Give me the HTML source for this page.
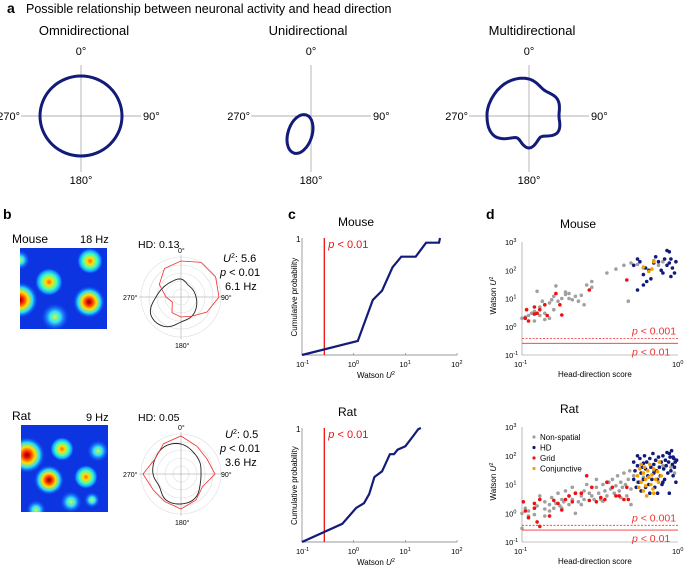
<!DOCTYPE html>
<html><head><meta charset="utf-8"><style>
body{margin:0;background:#fff}
svg{display:block;font-family:"Liberation Sans",Arial,sans-serif}
</style></head><body>
<svg id="fig" width="685" height="569" viewBox="0 0 685 569" xmlns="http://www.w3.org/2000/svg">
<defs>
<radialGradient id="hr" cx="50%" cy="50%" r="50%"><stop offset="0" stop-color="#800000"/><stop offset="0.2" stop-color="#ff2000"/><stop offset="0.45" stop-color="#ffe000"/><stop offset="0.7" stop-color="#20e0ff"/><stop offset="1" stop-color="#1040ff" stop-opacity="0"/></radialGradient>
<radialGradient id="hy" cx="50%" cy="50%" r="50%"><stop offset="0" stop-color="#ff6000"/><stop offset="0.25" stop-color="#ffe000"/><stop offset="0.55" stop-color="#40ffc0"/><stop offset="0.8" stop-color="#10a0ff"/><stop offset="1" stop-color="#1040ff" stop-opacity="0"/></radialGradient>
<radialGradient id="hc" cx="50%" cy="50%" r="50%"><stop offset="0" stop-color="#c0ff40"/><stop offset="0.4" stop-color="#30e0ff"/><stop offset="1" stop-color="#1040ff" stop-opacity="0"/></radialGradient>
<clipPath id="cm"><rect x="20" y="248" width="87" height="81"/></clipPath>
<clipPath id="cr"><rect x="21" y="425" width="87" height="87"/></clipPath>
</defs>
<g id="root"></g>
</svg>
<script>
// ---------- data ----------
const cdfMouseX=[-1,0.08,0.37,0.55,0.75,0.92,1.2,1.25,1.4,1.65,1.67];
const cdfMouseY=[0,0.12,0.47,0.55,0.75,0.84,0.84,0.87,0.96,0.96,1.0];
const cdfRatX=[-1,-0.22,0.05,0.2,0.3,0.4,0.55,0.7,0.78,0.85,1.0,1.15,1.25,1.3];
const cdfRatY=[0,0.16,0.3,0.34,0.42,0.57,0.62,0.77,0.77,0.81,0.84,0.93,0.99,1.0];
const mGray=[[0.1,2],[0.105,2.2],[0.11,2.5],[0.115,3],[0.12,3.5],[0.125,18],[0.13,5],[0.13,2.5],[0.135,8],[0.14,3],[0.14,6],[0.15,7],[0.15,2],[0.155,9],[0.16,12],[0.165,28],[0.17,8],[0.18,10],[0.19,14],[0.2,15],[0.21,9],[0.22,12],[0.23,8],[0.24,13],[0.25,6],[0.26,30],[0.28,25],[0.28,40],[0.35,80],[0.4,110],[0.45,150],[0.48,8],[0.5,180],[0.55,160],[0.6,120],[0.7,220],[0.75,150],[0.8,200],[0.12,1.6],[0.14,1.8],[0.16,4],[0.19,17],[0.2,10]];
const mRed=[[0.105,2],[0.107,4],[0.11,1.6],[0.12,5],[0.125,3],[0.13,4],[0.14,6],[0.145,2.5],[0.165,15],[0.175,6],[0.18,2.6],[0.27,20],[0.47,45],[0.12,2.8]];
const mBlue=[[0.52,150],[0.55,250],[0.57,200],[0.6,70],[0.62,120],[0.55,20],[0.63,40],[0.65,100],[0.7,180],[0.72,300],[0.75,200],[0.78,100],[0.8,80],[0.85,150],[0.85,500],[0.88,450],[0.9,250],[0.9,60],[0.92,120],[0.95,80],[0.88,180],[0.67,50],[0.6,30],[0.82,250],[0.97,200]];
const mOrange=[[0.6,130],[0.65,90],[0.68,110],[0.7,200]];
const rGray=[[0.1,0.3],[0.1,1],[0.105,1.5],[0.11,0.8],[0.11,1.2],[0.12,0.9],[0.125,1.8],[0.13,3],[0.13,4],[0.14,1.4],[0.14,2.5],[0.15,1.2],[0.15,2],[0.155,3.5],[0.16,1.5],[0.165,2.2],[0.17,5],[0.175,1.8],[0.18,3],[0.185,2.5],[0.19,6],[0.2,2],[0.2,4],[0.21,3],[0.21,8],[0.22,1],[0.22,5],[0.23,2.5],[0.24,4],[0.25,6],[0.25,3],[0.26,10],[0.27,5],[0.28,4],[0.29,3],[0.3,8],[0.3,15],[0.31,5],[0.32,3],[0.33,10],[0.34,6],[0.35,4],[0.36,12],[0.37,7],[0.38,15],[0.39,5],[0.4,9],[0.41,20],[0.42,6],[0.43,12],[0.44,8],[0.45,25],[0.46,10],[0.47,4],[0.48,15],[0.49,30],[0.5,7],[0.5,2],[0.52,20],[0.55,12],[0.6,18],[0.7,30],[0.8,45],[0.9,40],[0.95,25],[0.14,0.8],[0.18,1.5],[0.24,2],[0.33,2.6],[0.43,3.5]];
const rRed=[[0.102,2.5],[0.105,1.2],[0.11,0.7],[0.12,2.2],[0.12,1.5],[0.125,0.5],[0.13,0.35],[0.13,3],[0.15,0.8],[0.16,2.8],[0.17,2.2],[0.19,3],[0.2,4],[0.21,2.5],[0.22,5],[0.24,5],[0.26,20],[0.28,8],[0.3,2.5],[0.32,3.5],[0.34,3],[0.35,12],[0.38,8],[0.4,4],[0.42,4],[0.45,3],[0.47,8],[0.48,3],[0.18,1.3],[0.27,2.8]];
const rBlue=[[0.52,60],[0.52,15],[0.53,30],[0.54,8],[0.55,45],[0.56,12],[0.57,80],[0.58,25],[0.58,6],[0.59,40],[0.6,15],[0.61,100],[0.62,35],[0.62,8],[0.63,60],[0.64,20],[0.65,10],[0.66,80],[0.67,40],[0.68,15],[0.69,120],[0.7,50],[0.7,25],[0.71,8],[0.72,70],[0.73,30],[0.74,15],[0.75,90],[0.76,40],[0.77,20],[0.78,60],[0.79,10],[0.8,100],[0.81,35],[0.82,15],[0.83,70],[0.84,45],[0.85,130],[0.86,25],[0.87,60],[0.88,5],[0.89,90],[0.9,30],[0.91,150],[0.92,50],[0.93,20],[0.94,80],[0.95,40],[0.96,60],[0.97,12],[0.98,70],[0.55,100],[0.6,55],[0.66,5],[0.74,5],[0.8,12],[0.88,120],[0.93,90]];
const rOrange=[[0.55,20],[0.56,8],[0.57,35],[0.58,12],[0.6,25],[0.6,6],[0.61,40],[0.62,15],[0.63,4],[0.64,30],[0.65,18],[0.66,50],[0.67,10],[0.68,22],[0.69,7],[0.7,35],[0.72,15],[0.74,28],[0.75,12],[0.76,60],[0.58,50],[0.62,9],[0.7,5],[0.78,20]];
const angs=[0,30,60,90,120,150,180,210,240,270,300,330];
const multiR=[37,30,33,30,33,24,32,25,40,42,41,40];
const mRedR=[36,40,40,38,30,22,20,18,10,15,25,33];
const mBlackR=[18,14,14,15,18,22,25,34,35,25,20,18];
const rRedR=[38,32,30,34,25,30,35,32,32,38,30,35];
const rBlackR=[30,25,22,20,22,28,30,30,25,28,30,32];
// ---------- helpers ----------
const NS="http://www.w3.org/2000/svg";const root=document.getElementById('root');
function mk(tag,attrs,name,parent){const e=document.createElementNS(NS,tag);for(const k in attrs)e.setAttribute(k,attrs[k]);


(parent||root).appendChild(e);return e;}
function txt(x,y,s,size,name,opt){const o=Object.assign({x:x,y:y,'font-size':size,fill:'#000'},opt||{});const e=mk('text',o,name);e.innerHTML=s;return e;}
function smoothPolar(cx,cy,arr,n){let pts=[];const N=arr.length;for(let i=0;i<n;i++){const t=i/n*N;const k=Math.floor(t),f=t-k;
const p0=arr[(k-1+N)%N],p1=arr[k%N],p2=arr[(k+1)%N],p3=arr[(k+2)%N];
const r=0.5*((2*p1)+(-p0+p2)*f+(2*p0-5*p1+4*p2-p3)*f*f+(-p0+3*p1-3*p2+p3)*f*f*f);
const a=t/N*2*Math.PI;pts.push((cx+r*Math.sin(a)).toFixed(1)+','+(cy-r*Math.cos(a)).toFixed(1));}return 'M'+pts.join('L')+'Z';}
function polar(cx,cy,arr){return 'M'+arr.map((r,i)=>{const a=angs[i]*Math.PI/180;return (cx+r*Math.sin(a)).toFixed(1)+','+(cy-r*Math.cos(a)).toFixed(1);}).join('L')+'Z';}
// ---------- panel a ----------
txt(7,13,'a',14,'panel-a-label',{'font-weight':'bold'});
txt(26,13,'Possible relationship between neuronal activity and head direction',12.5,'panel-a-title');
function axesA(cx,cy,name){mk('line',{x1:cx-60,y1:cy,x2:cx+60,y2:cy,stroke:'#999','stroke-width':0.7},name+'-h-axis');
mk('line',{x1:cx,y1:cy-51,x2:cx,y2:cy+56,stroke:'#999','stroke-width':0.7},name+'-v-axis');
txt(cx,cy-61,'0°',11,name+'-label-0',{'text-anchor':'middle'});txt(cx,cy+68,'180°',11,name+'-label-180',{'text-anchor':'middle'});
txt(cx-61,cy+4,'270°',11,name+'-label-270',{'text-anchor':'end'});txt(cx+62,cy+4,'90°',11,name+'-label-90');}
txt(84,35,'Omnidirectional',13,'omni-title',{'text-anchor':'middle'});axesA(81,116,'omni');
mk('ellipse',{cx:81,cy:116,rx:41,ry:40,fill:'none',stroke:'#121b7a','stroke-width':3},'omni-curve');
txt(308,35,'Unidirectional',13,'uni-title',{'text-anchor':'middle'});axesA(311,116,'uni');
mk('ellipse',{cx:300,cy:134,rx:12,ry:20,transform:'rotate(18 300 134)',fill:'none',stroke:'#121b7a','stroke-width':3},'uni-curve');
txt(532,35,'Multidirectional',13,'multi-title',{'text-anchor':'middle'});axesA(529,116,'multi');
mk('path',{d:smoothPolar(529,116,multiR,120),fill:'none',stroke:'#121b7a','stroke-width':3},'multi-curve');
// ---------- panel b ----------
txt(3,219,'b',14,'panel-b-label',{'font-weight':'bold'});
function heat(x,y,w,h,clip,blobs,name){const g=mk('g',{'clip-path':'url(#'+clip+')'},name);
mk('rect',{x:x,y:y,width:w,height:h,fill:'#0c34e0'},name+'-bg',g);
blobs.forEach((b,i)=>mk('circle',{cx:b[0],cy:b[1],r:b[2],fill:'url(#'+b[3]+')'},name+'-field',g));}
txt(12,243,'Mouse',12,'mouse-label');txt(80,243,'18 Hz',11,'mouse-rate');
heat(20,248,87,81,'cm',[[90,261,13,'hy'],[49,282,14,'hy'],[20,300,18,'hr'],[89,302,16,'hr'],[55,317,14,'hc'],[20,260,10,'hc']],'mouse-ratemap');
txt(12,420,'Rat',12,'rat-label');txt(86,421,'9 Hz',11,'rat-rate');
heat(21,425,87,87,'cr',[[27,455,18,'hr'],[62,449,12,'hy'],[98,451,11,'hc'],[49,480,15,'hr'],[86,477,12,'hy'],[71,502,11,'hc'],[36,510,10,'hc'],[92,500,8,'hc']],'rat-ratemap');
function polarB(cx,cy,red,blk,name){for(let r=8;r<=40;r+=8)mk('circle',{cx:cx,cy:cy,r:r,fill:'none',stroke:'#ddd','stroke-width':0.6},name+'-ring');
mk('line',{x1:cx-42,y1:cy,x2:cx+42,y2:cy,stroke:'#999','stroke-width':0.5},name+'-haxis');
mk('line',{x1:cx,y1:cy-42,x2:cx,y2:cy+42,stroke:'#999','stroke-width':0.5},name+'-vaxis');
txt(cx-3,cy-44,'0°',7,name+'-0');txt(cx-6,cy+51,'180°',7,name+'-180');txt(cx-58,cy+3,'270°',7,name+'-270');txt(cx+40,cy+3,'90°',7,name+'-90');
mk('path',{d:smoothPolar(cx,cy,blk,60),fill:'none',stroke:'#222','stroke-width':0.9},name+'-black-curve');
mk('path',{d:polar(cx,cy,red),fill:'none',stroke:'#f03030','stroke-width':0.8},name+'-red-curve');}
txt(138,248,'HD: 0.13',10.5,'mouse-hd');polarB(181,297,mRedR,mBlackR,'mouse-polar');
txt(223,262,'<tspan font-style="italic">U</tspan><tspan dy="-4" font-size="7">2</tspan><tspan dy="4">: 5.6</tspan>',11,'mouse-u2');
txt(220,276,'<tspan font-style="italic">p</tspan> &lt; 0.01',11,'mouse-p');txt(225,290,'6.1 Hz',11,'mouse-hz');
txt(138,421,'HD: 0.05',10.5,'rat-hd');polarB(181,474,rRedR,rBlackR,'rat-polar');
txt(225,438,'<tspan font-style="italic">U</tspan><tspan dy="-4" font-size="7">2</tspan><tspan dy="4">: 0.5</tspan>',11,'rat-u2');
txt(220,452,'<tspan font-style="italic">p</tspan> &lt; 0.01',11,'rat-p');txt(225,466,'3.6 Hz',11,'rat-hz');
// ---------- panel c ----------
txt(288,219,'c',14,'panel-c-label',{'font-weight':'bold'});
function cdf(top,bot,xs,ys,title,name){const x0=302,dec=51.7;const X=v=>x0+(v+1)*dec;const Y=p=>bot-p*(bot-top);
txt(338,top-12,title,12,name+'-title');
mk('line',{x1:x0,y1:top,x2:x0,y2:bot,stroke:'#777','stroke-width':0.7},name+'-y-axis');
mk('line',{x1:x0,y1:bot,x2:X(2),y2:bot,stroke:'#777','stroke-width':0.7},name+'-x-axis');
txt(x0-6,top+4,'1',8,name+'-ytick-1');
for(let k=-1;k<=2;k++){mk('line',{x1:X(k),y1:bot,x2:X(k),y2:bot-2,stroke:'#777','stroke-width':0.6},name+'-xtick');
txt(X(k)-6,bot+12,'10<tspan dy="-3" font-size="5.5">'+k+'</tspan>',7.5,name+'-xtick-label');}
txt(357,bot+23,'Watson <tspan font-style="italic">U</tspan><tspan dy="-3" font-size="5.5">2</tspan>',8,name+'-x-title');
const t=txt(0,0,'Cumulative probability',8,name+'-y-title');t.setAttribute('transform','translate('+(x0-5)+','+((top+bot)/2+40)+') rotate(-90)');
const rx=X(Math.log10(0.27));mk('line',{x1:rx,y1:top,x2:rx,y2:bot,stroke:'#f01010','stroke-width':1.3},name+'-threshold');
txt(rx+4,top+10,'<tspan font-style="italic">p</tspan> &lt; 0.01',11,name+'-threshold-label',{fill:'#f01010'});
mk('path',{d:'M'+xs.map((v,i)=>X(v).toFixed(1)+','+Y(ys[i]).toFixed(1)).join('L'),fill:'none',stroke:'#121b7a','stroke-width':2.2},name+'-cdf-line');}
cdf(238,355,cdfMouseX,cdfMouseY,'Mouse','mouse-cdf');
cdf(428,542,cdfRatX,cdfRatY,'Rat','rat-cdf');
// ---------- panel d ----------
txt(486,219,'d',14,'panel-d-label',{'font-weight':'bold'});
function scat(top,bot,title,sets,name,legend){const x0=522,x1=678;const X=v=>x0+(Math.log10(v)+1)*(x1-x0);const dec=(bot-top)/4;const Y=v=>bot-(Math.log10(v)+1)*dec;
txt(560,top-14,title,12,name+'-title');
mk('line',{x1:x0,y1:top,x2:x0,y2:bot,stroke:'#888','stroke-width':0.6},name+'-y-axis');
mk('line',{x1:x0,y1:bot,x2:x1,y2:bot,stroke:'#888','stroke-width':0.6},name+'-x-axis');
for(let k=-1;k<=3;k++)txt(x0-17,Y(Math.pow(10,k))+3,'10<tspan dy="-3" font-size="5.5">'+k+'</tspan>',7.5,name+'-ytick-label');
txt(x0-8,bot+12,'10<tspan dy="-3" font-size="5.5">-1</tspan>',7.5,name+'-xtick-label');
txt(x1-6,bot+12,'10<tspan dy="-3" font-size="5.5">0</tspan>',7.5,name+'-xtick-label');
txt(558,bot+22,'Head-direction score',8,name+'-x-title');
const t=txt(0,0,'Watson <tspan font-style="italic">U</tspan><tspan dy="-3" font-size="5.5">2</tspan>',8,name+'-y-title');t.setAttribute('transform','translate(496,'+((top+bot)/2+16)+') rotate(-90)');
sets.forEach(s=>s.data.forEach(d=>mk('circle',{cx:X(d[0]).toFixed(1),cy:Y(d[1]).toFixed(1),r:1.8,fill:s.c},name+'-'+s.n+'-point')));
const yd=Y(0.38),ys=Y(0.26);
mk('line',{x1:x0,y1:yd,x2:x1,y2:yd,stroke:'#f03030','stroke-width':0.8,'stroke-dasharray':'2,1.5'},name+'-p001-line');
mk('line',{x1:x0,y1:ys,x2:x1,y2:ys,stroke:'#f03030','stroke-width':0.9},name+'-p01-line');
txt(632,yd-4,'<tspan font-style="italic">p</tspan> &lt; 0.001',10.5,name+'-p001-label',{fill:'#f03030'});
txt(632,ys+12,'<tspan font-style="italic">p</tspan> &lt; 0.01',10.5,name+'-p01-label',{fill:'#f03030'});
if(legend){sets.forEach((s,i)=>{mk('circle',{cx:534,cy:437+i*10.5,r:1.6,fill:s.c},'legend-marker-'+s.n);txt(540,440+i*10.5,s.label,8,'legend-entry-'+s.n);});}}
scat(242,355,'Mouse',[{n:'nonspatial',c:'#a0a0a0',data:mGray,label:'Non-spatial'},{n:'hd',c:'#121b7a',data:mBlue,label:'HD'},{n:'grid',c:'#f01010',data:mRed,label:'Grid'},{n:'conjunctive',c:'#f0a000',data:mOrange,label:'Conjunctive'}],'mouse-scatter',false);
scat(427,542,'Rat',[{n:'nonspatial',c:'#a0a0a0',data:rGray,label:'Non-spatial'},{n:'hd',c:'#121b7a',data:rBlue,label:'HD'},{n:'grid',c:'#f01010',data:rRed,label:'Grid'},{n:'conjunctive',c:'#f0a000',data:rOrange,label:'Conjunctive'}],'rat-scatter',true);
</script>
</body></html>
